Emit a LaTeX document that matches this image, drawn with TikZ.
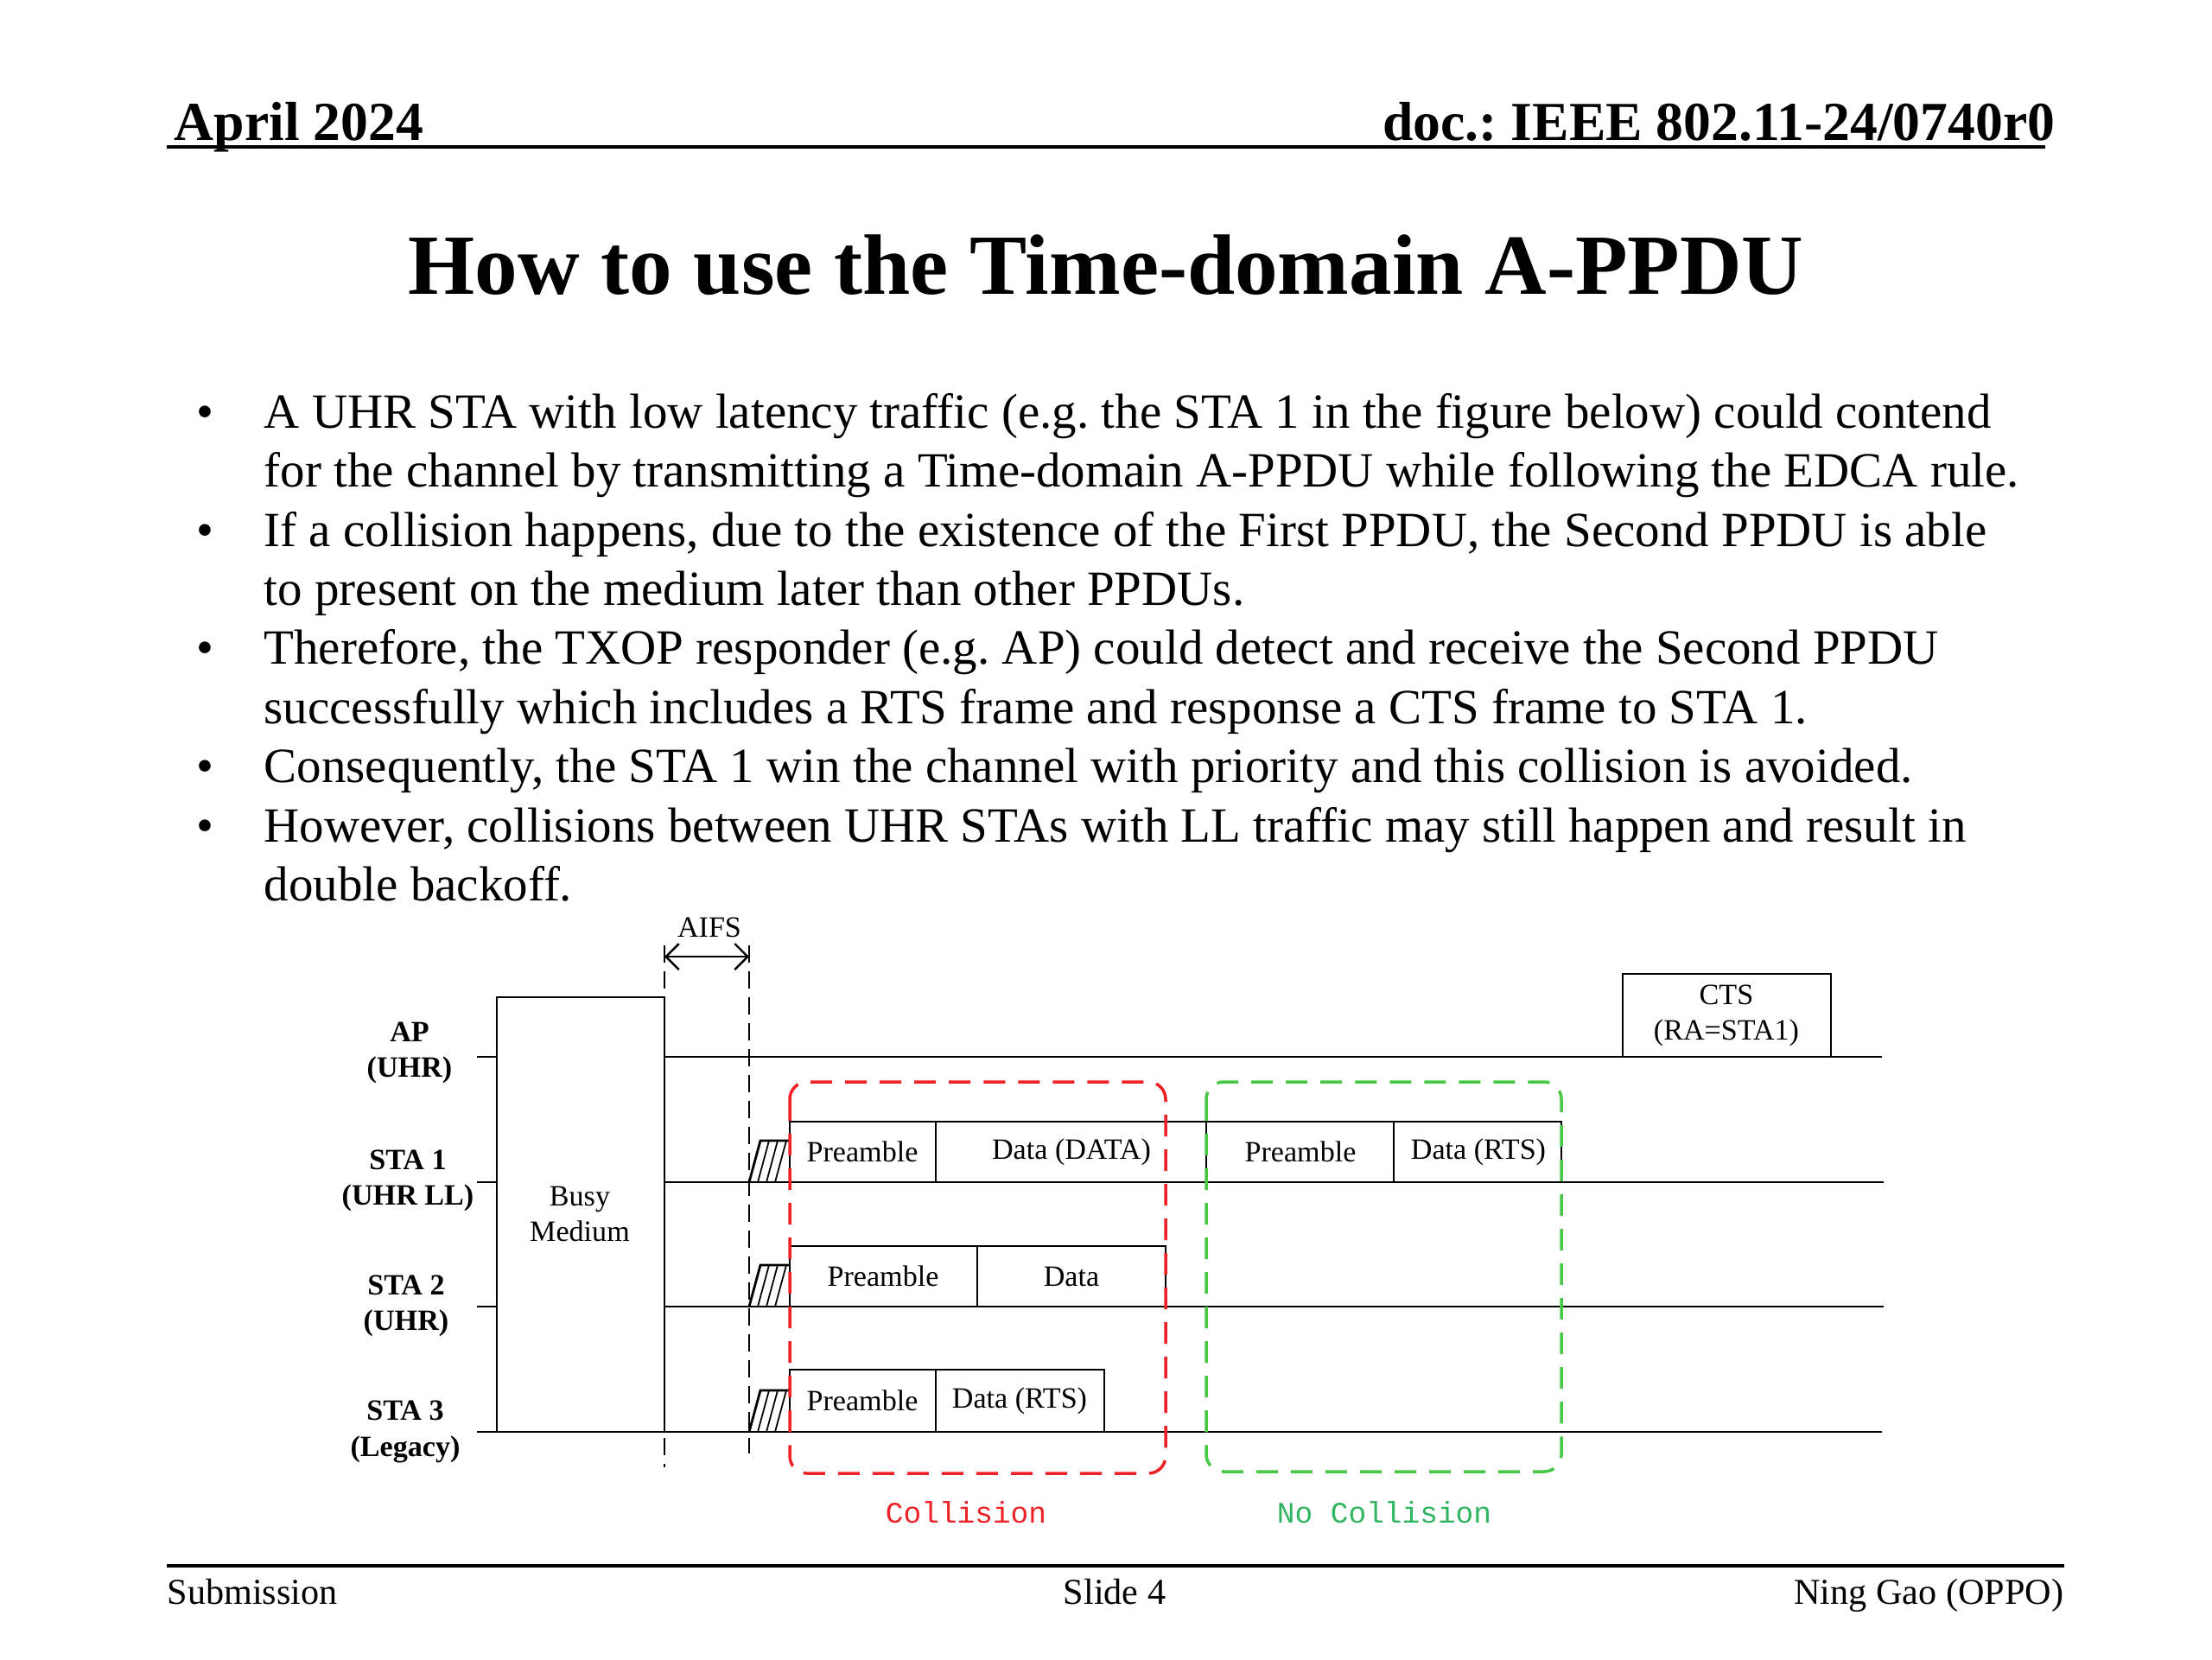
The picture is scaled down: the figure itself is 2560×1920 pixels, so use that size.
\documentclass[tikz,border=0pt]{standalone}
\usepackage{fontspec}
\setmainfont{Liberation Serif}
\setmonofont{Liberation Mono}
\usetikzlibrary{arrows.meta}
\frenchspacing

\definecolor{collred}{RGB}{238,34,38}
\definecolor{okgreen}{RGB}{70,200,70}
\definecolor{oktext}{RGB}{48,180,96}

\tikzset{
  hdr/.style={font=\fontsize{18.1}{21}\selectfont\bfseries},
  ttl/.style={font=\fontsize{28.2}{33}\selectfont\bfseries},
  body/.style={font=\fontsize{16.2}{19.5}\selectfont},
  foot/.style={font=\fontsize{12}{14}\selectfont},
  lbl/.style={font=\fontsize{9.7}{11.7}\selectfont},
  sta/.style={font=\fontsize{9.7}{11.7}\selectfont\bfseries, align=center},
  mono/.style={font=\fontsize{9.8}{11.7}\selectfont\ttfamily},
  rule/.style={line width=1.3pt},
  lane/.style={line width=0.8pt},
  slot/.style={line width=0.8pt},
  hatch/.style={line width=0.5pt},
  guide/.style={line width=0.8pt, dash pattern=on 0.2cm off 0.1cm},
  aifsarrow/.style={line width=0.7pt, {Straight Barb[length=1.5mm]}-{Straight Barb[length=1.5mm]}},
  collbox/.style={collred, line width=1pt, dash pattern=on 0.25cm off 0.15cm, rounded corners=0.2cm},
  okbox/.style={okgreen, line width=1pt, dash pattern=on 0.25cm off 0.15cm, rounded corners=0.2cm}
}

\begin{document}
\begin{tikzpicture}[x=0.01cm, y=-0.01cm, inner sep=0pt]
    \useasboundingbox (0,0) rectangle (2560,1920);

    % header
    \node[hdr, anchor=base west] (date) at (201,162) {April 2024};
    \node[hdr, anchor=base east] (docno) at (2379,162) {doc.: IEEE 802.11-24/0740r0};
    \draw[rule] (193,170) -- (2367,170);

    \node[ttl, anchor=base] (title) at (1280,340) {How to use the Time-domain A-PPDU};

    % bullets
    \node[body, anchor=base] (dot1) at (237,495) {•};
    \node[body, anchor=base] (dot2) at (237,632) {•};
    \node[body, anchor=base] (dot3) at (237,768) {•};
    \node[body, anchor=base] (dot4) at (237,905) {•};
    \node[body, anchor=base] (dot5) at (237,974) {•};

    \node[body, anchor=base west] (line1) at (305,495) {A UHR STA with low latency traffic (e.g. the STA 1 in the figure below) could contend};
    \node[body, anchor=base west] (line2) at (305,563) {for the channel by transmitting a Time-domain A-PPDU while following the EDCA rule.};
    \node[body, anchor=base west] (line3) at (305,632) {If a collision happens, due to the existence of the First PPDU, the Second PPDU is able};
    \node[body, anchor=base west] (line4) at (305,700) {to present on the medium later than other PPDUs.};
    \node[body, anchor=base west] (line5) at (305,768) {Therefore, the TXOP responder (e.g. AP) could detect and receive the Second PPDU};
    \node[body, anchor=base west] (line6) at (305,837) {successfully which includes a RTS frame and response a CTS frame to STA 1.};
    \node[body, anchor=base west] (line7) at (305,905) {Consequently, the STA 1 win the channel with priority and this collision is avoided.};
    \node[body, anchor=base west] (line8) at (305,974) {However, collisions between UHR STAs with LL traffic may still happen and result in};
    \node[body, anchor=base west] (line9) at (305,1042) {double backoff.};

    % AIFS
    \node[lbl] (aifs) at (821,1073) {AIFS};
    \coordinate (aifsL) at (769,1107);
    \coordinate (aifsR) at (867,1107);
    \draw[aifsarrow] (aifsL) -- (aifsR);
    \draw[guide] (769,1094) -- (769,1698);
    \draw[guide] (867,1094) -- (867,1682);

    % stations
    \node[sta] (ap) at (474,1218) {AP\\(UHR)};
    \node[sta] (sta1) at (472,1366) {STA 1\\(UHR LL)};
    \node[sta] (sta2) at (470,1511) {STA 2\\(UHR)};
    \node[sta] (sta3) at (469,1657) {STA 3\\(Legacy)};

    \draw[lane] (552,1223) -- (575,1223);
    \draw[lane] (769,1223) -- (2178,1223);
    \draw[lane] (552,1368) -- (575,1368);
    \draw[lane] (769,1368) -- (2180,1368);
    \draw[lane] (552,1512) -- (575,1512);
    \draw[lane] (769,1512) -- (2180,1512);
    \draw[lane] (552,1657) -- (2178,1657);

    % busy medium
    \draw[slot] (575,1657) -- (575,1154) -- (769,1154) -- (769,1657);
    \node[lbl, align=center] (busy) at (671,1405) {Busy\\Medium};

    % backoff
    \draw[slot] (867,1368) -- (880,1320) -- (914,1320);
    \draw[hatch] (877,1368) -- (890,1320) (887,1368) -- (900,1320) (897,1368) -- (910,1320);
    \draw[slot] (867,1512) -- (880,1464) -- (914,1464);
    \draw[hatch] (877,1512) -- (890,1464) (887,1512) -- (900,1464) (897,1512) -- (910,1464);
    \draw[slot] (867,1657) -- (880,1609) -- (914,1609);
    \draw[hatch] (877,1657) -- (890,1609) (887,1657) -- (900,1609) (897,1657) -- (910,1609);

    % STA 1
    \draw[slot] (914,1298) rectangle (1083,1368);
    \node[lbl] (s1pre) at (998,1333) {Preamble};
    \draw[slot] (1083,1298) rectangle (1396,1368);
    \node[lbl] (s1data) at (1240,1333) {Data (DATA)};
    \draw[slot] (1396,1298) rectangle (1613,1368);
    \node[lbl] (s1pre2) at (1505,1333) {Preamble};
    \draw[slot] (1613,1298) rectangle (1807,1368);
    \node[lbl] (s1rts) at (1711,1333) {Data (RTS)};

    % STA 2
    \draw[slot] (914,1442) rectangle (1131,1512);
    \node[lbl] (s2pre) at (1022,1477) {Preamble};
    \draw[slot] (1131,1442) rectangle (1349,1512);
    \node[lbl] (s2data) at (1240,1477) {Data};

    % STA 3
    \draw[slot] (914,1585) rectangle (1083,1657);
    \node[lbl] (s3pre) at (998,1621) {Preamble};
    \draw[slot] (1083,1585) rectangle (1278,1657);
    \node[lbl] (s3rts) at (1180,1621) {Data (RTS)};

    % AP response
    \draw[slot] (1878,1127) rectangle (2119,1223);
    \node[lbl, align=center] (cts) at (1998,1175) {CTS\\(RA=STA1)};

    % collision regions
    \draw[collbox] (914,1252) rectangle (1349,1705);
    \node[mono, text=collred] (coll) at (1118,1750) {Collision};
    \draw[okbox] (1396,1252) rectangle (1807,1703);
    \node[mono, text=oktext] (nocoll) at (1602,1750) {No Collision};

    % footer
    \draw[rule] (193,1812) -- (2389,1812);
    \node[foot, anchor=base west] (sub) at (193,1856) {Submission};
    \node[foot, anchor=base] (slide) at (1290,1856) {Slide 4};
    \node[foot, anchor=base east] (auth) at (2389,1856) {Ning Gao (OPPO)};
\end{tikzpicture}
\end{document}
